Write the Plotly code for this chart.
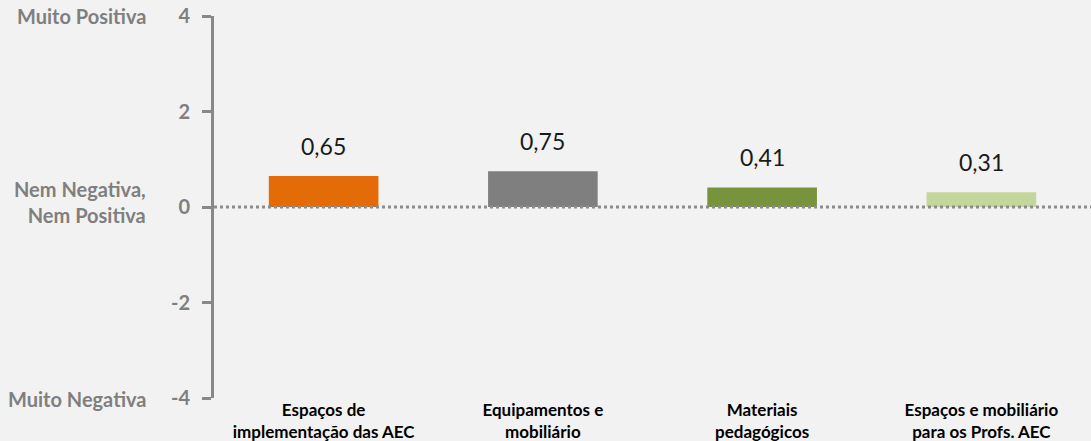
import plotly.graph_objects as go

categories = ["Espaços de<br>implementação das AEC", "Equipamentos e<br>mobiliário",
              "Materiais<br>pedagógicos", "Espaços e mobiliário<br>para os Profs. AEC"]
values = [0.65, 0.75, 0.41, 0.31]
value_labels = ["0,65", "0,75", "0,41", "0,31"]
colors = ["#E36C09", "#7F7F7F", "#77933C", "#C3D69B"]
y_ticks = [-4, -2, 0, 2, 4]
scale_labels = [(4, "Muito Positiva", 0), (0, "Nem Negativa,<br>Nem Positiva", 5), (-4, "Muito Negativa", -1)]

fig = go.Figure()
fig.add_trace(go.Bar(x=categories, y=values, marker=dict(color=colors, line=dict(width=0)),
                     width=0.5, showlegend=False, hoverinfo="skip"))

for c, v, t in zip(categories, values, value_labels):
    fig.add_annotation(x=c, y=v, text=t, showarrow=False, yanchor="bottom", yshift=14,
                       font=dict(family="Lato", size=23, color="#1a1a1a"))

for y, t, ys in scale_labels:
    fig.add_annotation(x=-0.075, xref="paper", y=y, yref="y", text=t, showarrow=False,
                       xanchor="right", align="right", yshift=ys,
                       font=dict(family="Lato", size=20, color="#7F7F7F", weight="bold"))

fig.add_shape(type="line", xref="paper", x0=0, x1=1, yref="y", y0=0, y1=0,
              line=dict(color="#8C8C8C", width=3, dash="dot"), layer="above")

fig.update_layout(
    width=1091, height=441,
    margin=dict(l=214, r=0, t=16, b=43),
    paper_bgcolor="#F2F2F2", plot_bgcolor="#F2F2F2",
    bargap=0.5,
    xaxis=dict(showline=False, showgrid=False, ticks="", zeroline=False,
               tickfont=dict(family="Lato", size=17, color="#000000", weight="bold"),
               ticklabelstandoff=0),
    yaxis=dict(range=[-4, 4], tickvals=y_ticks, ticktext=[str(v) for v in y_ticks],
               showline=True, linecolor="#888888", linewidth=3,
               ticks="outside", ticklen=9, tickwidth=3, tickcolor="#888888",
               showgrid=False, zeroline=False,
               tickfont=dict(family="Lato", size=20, color="#7F7F7F", weight="bold"),
               ticklabelstandoff=8),
)

fig.write_html("out.html")
